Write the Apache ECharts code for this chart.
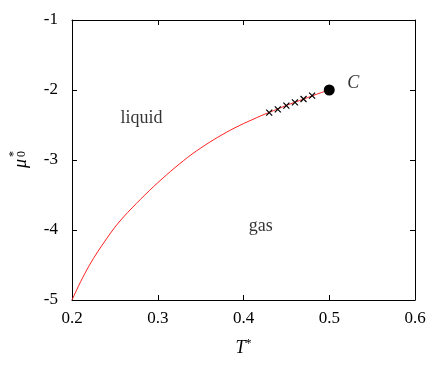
<!DOCTYPE html>
<html>
<head>
<meta charset="utf-8">
<script src="https://cdn.jsdelivr.net/npm/echarts@6/dist/echarts.min.js"></script>
<style>
html, body { margin: 0; padding: 0; background: #fff; }
#chart { width: 436px; height: 367px; }
</style>
</head>
<body>
<div id="chart"></div>
<script>
// coexistence line T* vs mu0*
var curveT  = [0.20, 0.21, 0.22, 0.23, 0.24, 0.25, 0.26, 0.27, 0.28, 0.29, 0.30, 0.31, 0.32, 0.33, 0.34, 0.35, 0.36, 0.37, 0.38, 0.39, 0.40, 0.41, 0.42, 0.43, 0.44, 0.45, 0.46, 0.47, 0.48, 0.49, 0.50];
var curveMu = [-5.00, -4.74, -4.51, -4.31, -4.13, -3.96, -3.815, -3.685, -3.56, -3.44, -3.325, -3.215, -3.11, -3.01, -2.915, -2.83, -2.75, -2.675, -2.605, -2.54, -2.48, -2.425, -2.37, -2.32, -2.27, -2.22, -2.175, -2.13, -2.085, -2.04, -2.00];

// simulation points
var simT  = [0.43, 0.44, 0.45, 0.46, 0.47, 0.48];
var simMu = [-2.324, -2.276, -2.224, -2.176, -2.129, -2.081];

// critical point
var critT = [0.5];
var critMu = [-2.0];

// region labels
var annT    = [0.281, 0.42, 0.528];
var annMu   = [-2.41, -3.94, -1.91];
var annText = ['liquid', 'gas', 'C'];

function zip(a, b) {
	var out = [];
	for (var i = 0; i < a.length; i++) out.push([a[i], b[i]]);
	return out;
}

var font = 'Liberation Serif';
var chart = echarts.init(document.getElementById('chart'));

var axisCommon = {
	type: 'value',
	axisLine: { show: true, onZero: false, lineStyle: { color: '#000', width: 1 } },
	axisTick: { show: true, inside: true, length: 5, lineStyle: { color: '#000' } },
	splitLine: { show: false }
};

var annData = [];
for (var i = 0; i < annT.length; i++) {
	annData.push({ value: [annT[i], annMu[i]], name: annText[i] });
}
// C is italic
annData[2].label = { fontStyle: 'italic', fontSize: 18 };

var option = {
	animation: false,
	backgroundColor: '#fff',
	grid: { left: 72, right: 21, top: 20, bottom: 67 }
};

option.xAxis = [
	Object.assign({}, axisCommon, {
		min: 0.2, max: 0.6, interval: 0.1, position: 'bottom',
		axisLabel: { color: '#000', fontFamily: font, fontSize: 17, margin: 10,
			formatter: function (v) { return v.toFixed(1); } },
		name: '{t|T}{s|*}', nameLocation: 'middle', nameGap: 38,
		nameTextStyle: { rich: {
			t: { fontFamily: font, fontStyle: 'italic', fontSize: 18, color: '#000', lineHeight: 20 },
			s: { fontFamily: font, fontSize: 12, color: '#000', verticalAlign: 'top', lineHeight: 20 }
		} }
	}),
	Object.assign({}, axisCommon, {
		min: 0.2, max: 0.6, interval: 0.1, position: 'top',
		axisLabel: { show: false }
	})
];

option.yAxis = [
	Object.assign({}, axisCommon, {
		min: -5, max: -1, interval: 1, position: 'left',
		axisLabel: { color: '#000', fontFamily: font, fontSize: 17, margin: 14 }
	}),
	Object.assign({}, axisCommon, {
		min: -5, max: -1, interval: 1, position: 'right',
		axisLabel: { show: false }
	})
];

option.graphic = [{
	type: 'group',
	x: 12,
	y: 168,
	rotation: Math.PI / 2,
	children: [
		{ type: 'text', x: 0, y: 0, style: { text: 'μ', font: 'italic 18px "' + font + '"', fill: '#000' } },
		{ type: 'text', x: 11, y: -4, style: { text: '*', font: '12px "' + font + '"', fill: '#000' } },
		{ type: 'text', x: 11, y: 4, style: { text: '0', font: '12px "' + font + '"', fill: '#000' } }
	]
}];

option.series = [
	{
		type: 'line',
		data: zip(curveT, curveMu),
		smooth: 0.3,
		showSymbol: false,
		lineStyle: { color: '#ff2020', width: 1 },
		z: 2
	},
	{
		type: 'scatter',
		data: zip(simT, simMu),
		symbol: 'path://M0,0L10,10M10,0L0,10',
		symbolSize: 6,
		itemStyle: { color: 'none', borderColor: '#000', borderWidth: 1.2, opacity: 1 },
		z: 3
	},
	{
		type: 'scatter',
		data: zip(critT, critMu),
		symbol: 'circle',
		symbolSize: 11,
		itemStyle: { color: '#000', opacity: 1 },
		z: 4
	},
	{
		type: 'scatter',
		data: annData,
		symbolSize: 0,
		silent: true,
		label: {
			show: true, position: 'inside', color: '#000', fontFamily: font, fontSize: 18,
			formatter: function (p) { return p.name; }
		}
	}
];

chart.setOption(option);
</script>
</body>
</html>
